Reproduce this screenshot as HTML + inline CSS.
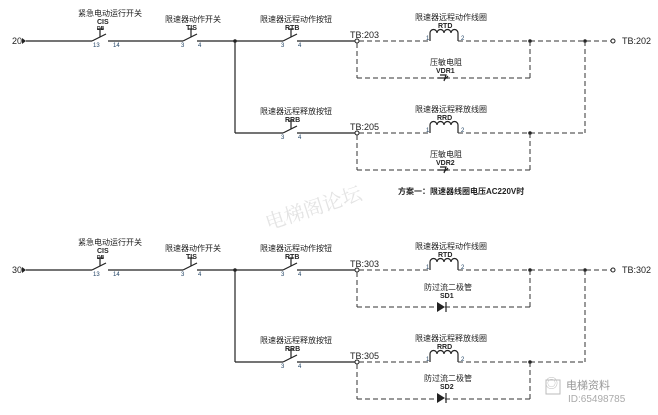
<!DOCTYPE html>
<html><head><meta charset="utf-8"><style>
html,body{margin:0;padding:0;background:#fff;width:658px;height:415px;overflow:hidden}
svg{display:block}
text{font-family:"Liberation Sans","Noto Sans CJK SC",sans-serif;fill:#222}
.cn{font-size:8px}
.lb{font-size:7px;font-weight:bold}
.pn{font-size:6px;fill:#246}
.tb{font-size:9px}
.s{stroke:#222;stroke-width:1.2;fill:none}
.d{stroke:#333;stroke-width:1;fill:none;stroke-dasharray:5,3}
</style></head><body>
<svg width="658" height="415" viewBox="0 0 658 415">
<defs>
<g id="sw">
 <line class="s" x1="0" y1="0" x2="14" y2="-7"/>
 <line class="s" x1="8" y1="-4" x2="8" y2="-12"/>
 <line class="s" x1="5" y1="-12" x2="11" y2="-12"/>
</g>
<g id="coil">
 <path class="s" d="M0,0 V-8 a3.5,3.5 0 0 1 7,0 a3.5,3.5 0 0 1 7,0 a3.5,3.5 0 0 1 7,0 a3.5,3.5 0 0 1 7,0 V0"/>
</g>
<g id="common">
 <polygon points="22,-3 22,3 26,0" fill="#222"/>
 <line class="s" x1="26" y1="0" x2="92" y2="0"/>
 <use href="#sw" x="92" y="0"/>
 <line class="s" x1="108" y1="0" x2="183" y2="0"/>
 <use href="#sw" x="183" y="0"/>
 <line class="s" x1="197" y1="0" x2="283" y2="0"/>
 <use href="#sw" x="283" y="0"/>
 <line class="s" x1="297" y1="0" x2="357" y2="0"/>
 <circle cx="235" cy="0" r="1.8" fill="#222"/>
 <line class="s" x1="235" y1="0" x2="235" y2="92"/>
 <line class="s" x1="235" y1="92" x2="283" y2="92"/>
 <use href="#sw" x="283" y="92"/>
 <line class="s" x1="297" y1="92" x2="357" y2="92"/>
 <text class="pn" x="93" y="6">13</text><text class="pn" x="113" y="6">14</text>
 <text class="pn" x="181" y="6">3</text><text class="pn" x="198" y="6">4</text>
 <text class="pn" x="281" y="6">3</text><text class="pn" x="298" y="6">4</text>
 <text class="pn" x="281" y="98">3</text><text class="pn" x="298" y="98">4</text>
 <text class="cn" x="78" y="-25">紧急电动运行开关</text>
 <text class="lb" x="97" y="-17">CIS</text>
 <text class="lb" x="97" y="-11" style="font-size:5px">DB</text>
 <text class="cn" x="165" y="-19">限速器动作开关</text>
 <text class="lb" x="186" y="-11">TIS</text>
 <text class="cn" x="260" y="-19">限速器远程动作按钮</text>
 <text class="lb" x="285" y="-11">RTB</text>
 <text class="cn" x="260" y="73">限速器远程释放按钮</text>
 <text class="lb" x="285" y="81">RRB</text>
 <circle cx="357" cy="0" r="2" fill="#fff" stroke="#222"/>
 <circle cx="357" cy="92" r="2" fill="#fff" stroke="#222"/>
 <line class="d" x1="359" y1="0" x2="430" y2="0"/>
 <use href="#coil" x="430" y="0"/>
 <line class="d" x1="458" y1="0" x2="611" y2="0"/>
 <circle cx="613" cy="0" r="2" fill="#fff" stroke="#222"/>
 <circle cx="530" cy="0" r="1.8" fill="#222"/>
 <circle cx="585" cy="0" r="1.8" fill="#222"/>
 <line class="d" x1="357" y1="2" x2="357" y2="37"/>
 <line class="d" x1="357" y1="37" x2="530" y2="37"/>
 <line class="d" x1="530" y1="0" x2="530" y2="37"/>
 <line class="d" x1="585" y1="0" x2="585" y2="92"/>
 <line class="d" x1="359" y1="92" x2="430" y2="92"/>
 <use href="#coil" x="430" y="92"/>
 <line class="d" x1="458" y1="92" x2="585" y2="92"/>
 <circle cx="530" cy="92" r="1.8" fill="#222"/>
 <line class="d" x1="357" y1="94" x2="357" y2="129"/>
 <line class="d" x1="357" y1="129" x2="530" y2="129"/>
 <line class="d" x1="530" y1="92" x2="530" y2="129"/>
 <text class="pn" x="426" y="-1">1</text><text class="pn" x="461" y="-1">2</text>
 <text class="pn" x="426" y="91">1</text><text class="pn" x="461" y="91">2</text>
 <text class="cn" x="415" y="-21">限速器远程动作线圈</text>
 <text class="lb" x="438" y="-13">RTD</text>
 <text class="cn" x="415" y="71">限速器远程释放线圈</text>
 <text class="lb" x="437" y="79">RRD</text>
</g>
</defs>

<use href="#common" x="0" y="41"/>
<text class="tb" x="12" y="44">20</text>
<text class="tb" x="350" y="38">TB:203</text>
<text class="tb" x="350" y="130">TB:205</text>
<text class="tb" x="622" y="44">TB:202</text>
<text class="cn" x="430" y="65">压敏电阻</text>
<text class="lb" x="436" y="73">VDR1</text>
<path class="s" d="M438,78 h10 M440,75 h6 l-2,6 M448,76 l-4,4" />
<text class="cn" x="430" y="157">压敏电阻</text>
<text class="lb" x="436" y="165">VDR2</text>
<path class="s" d="M438,170 h10 M440,167 h6 l-2,6 M448,168 l-4,4"/>
<text class="cn" x="398" y="194" style="font-weight:bold">方案一：限速器线圈电压AC220V时</text>
<text x="268" y="230" style="font-size:20px;fill:#e4e4e4;font-family:'Liberation Serif','Noto Serif CJK SC',serif" transform="rotate(-18 268 230)">电梯阁论坛</text>

<use href="#common" x="0" y="270"/>
<text class="tb" x="350" y="267">TB:303</text>
<text class="tb" x="350" y="359">TB:305</text>
<text class="tb" x="622" y="273">TB:302</text>
<text class="tb" x="12" y="273">30</text>
<text class="cn" x="424" y="290">防过流二极管</text>
<text class="lb" x="440" y="298">SD1</text>
<polygon points="437,302 437,312 445,307" fill="#222"/><line class="s" x1="446" y1="302" x2="446" y2="312"/>
<text class="cn" x="424" y="381">防过流二极管</text>
<text class="lb" x="440" y="389">SD2</text>
<polygon points="437,393 437,403 445,398" fill="#222"/><line class="s" x1="446" y1="393" x2="446" y2="403"/>
<text x="545" y="388" style="font-size:13px;fill:#bbb">◎</text>
<rect x="546" y="380" width="14" height="14" fill="none" stroke="#bbb"/>
<text x="566" y="389" style="font-size:11px;fill:#999">电梯资料</text>
<text x="568" y="402" style="font-size:10px;fill:#aaa">ID:65498785</text>
</svg>
</body></html>
